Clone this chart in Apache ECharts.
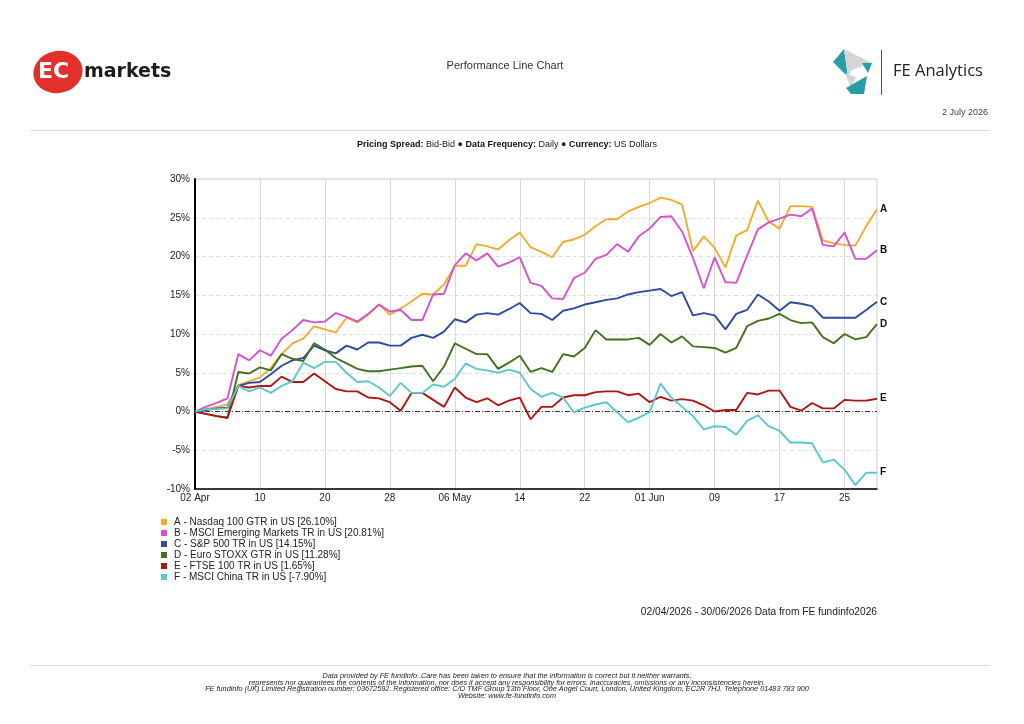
<!DOCTYPE html>
<html>
<head>
<meta charset="utf-8">
<script src="https://cdn.jsdelivr.net/npm/echarts@6/dist/echarts.min.js"></script>
<style>
  html, body { margin: 0; padding: 0; background: #fff; }
  #chart { width: 1024px; height: 724px; }
</style>
</head>
<body>
<div id="chart"></div>
<script>
// business days 02 Apr 2026 - 30 Jun 2026
const dates = [
  '02 Apr', '03 Apr', '06 Apr', '07 Apr', '08 Apr', '09 Apr', '10 Apr', '13 Apr', '14 Apr', '15 Apr',
  '16 Apr', '17 Apr', '20 Apr', '21 Apr', '22 Apr', '23 Apr', '24 Apr', '27 Apr', '28 Apr', '29 Apr',
  '30 Apr', '01 May', '04 May', '05 May', '06 May', '07 May', '08 May', '11 May', '12 May', '13 May',
  '14 May', '15 May', '18 May', '19 May', '20 May', '21 May', '22 May', '25 May', '26 May', '27 May',
  '28 May', '29 May', '01 Jun', '02 Jun', '03 Jun', '04 Jun', '05 Jun', '08 Jun', '09 Jun', '10 Jun',
  '11 Jun', '12 Jun', '15 Jun', '16 Jun', '17 Jun', '18 Jun', '19 Jun', '22 Jun', '23 Jun', '24 Jun',
  '25 Jun', '26 Jun', '29 Jun', '30 Jun'
];
const tickLabels = ['02 Apr', '10', '20', '28', '06 May', '14', '22', '01 Jun', '09', '17', '25'];
const tickEvery = 6;

const nasdaq = [
  0, 0.3, 0.6, 0.9, 3.4, 3.9, 4.4, 5.6, 7.4, 8.8,
  9.4, 11.0, 10.6, 10.2, 12.1, 11.5, 12.5, 13.8, 12.5, 13.3,
  14.2, 15.2, 15.1, 16.4, 18.8, 18.8, 21.6, 21.3, 20.9, 22.1,
  23.1, 21.2, 20.6, 19.9, 21.9, 22.2, 22.8, 23.9, 24.8, 24.8,
  25.8, 26.4, 26.9, 27.6, 27.3, 26.7, 20.7, 22.6, 21.1, 18.6,
  22.7, 23.4, 27.2, 24.5, 23.6, 26.5, 26.5, 26.4, 22.1, 21.7,
  21.5, 21.4, 23.9, 26.1
];
const msciEm = [
  0, 0.6, 1.1, 1.7, 7.4, 6.6, 7.9, 7.2, 9.4, 10.5,
  11.8, 11.5, 11.6, 12.7, 12.2, 11.6, 12.6, 13.8, 12.9, 13.1,
  11.8, 11.8, 15.1, 15.2, 18.9, 20.4, 19.5, 20.4, 18.7, 19.2,
  19.9, 16.6, 16.2, 14.6, 14.5, 17.2, 17.9, 19.7, 20.2, 21.6,
  20.6, 22.6, 23.6, 25.1, 25.2, 23.2, 19.8, 15.9, 19.9, 16.7,
  16.6, 20.1, 23.5, 24.4, 24.9, 25.4, 25.2, 26.2, 21.5, 21.3,
  23.1, 19.7, 19.7, 20.81
];
const sp500 = [
  0, 0.2, 0.4, 0.5, 3.3, 3.7, 3.8, 4.8, 5.9, 6.6,
  6.9, 8.5, 7.9, 7.5, 8.5, 8.0, 8.9, 8.9, 8.5, 8.5,
  9.5, 9.9, 9.5, 10.3, 11.9, 11.5, 12.5, 12.7, 12.5, 13.2,
  14.0, 12.7, 12.6, 11.8, 13.0, 13.3, 13.8, 14.1, 14.4, 14.6,
  15.1, 15.4, 15.6, 15.8, 14.9, 15.4, 12.4, 12.7, 12.4, 10.6,
  12.6, 13.1, 15.1, 14.2, 13.0, 14.1, 13.9, 13.6, 12.1, 12.1,
  12.1, 12.1, 13.1, 14.15
];
const euroStoxx = [
  0, -0.3, -0.6, -0.8, 5.1, 4.9, 5.7, 5.3, 7.4, 6.8,
  6.5, 8.8, 8.0, 6.9, 6.2, 5.5, 5.2, 5.2, 5.4, 5.6,
  5.8, 5.9, 3.9, 5.8, 8.8, 8.1, 7.4, 7.4, 5.5, 6.3,
  7.2, 5.1, 5.6, 5.1, 7.4, 7.1, 8.2, 10.5, 9.3, 9.3,
  9.3, 9.5, 8.6, 10.0, 8.9, 9.7, 8.4, 8.3, 8.2, 7.6,
  8.2, 11.0, 11.7, 12.0, 12.6, 11.8, 11.4, 11.5, 9.6, 8.8,
  10.0, 9.3, 9.6, 11.28
];
const ftse = [
  0, -0.3, -0.6, -0.8, 3.3, 3.1, 3.3, 3.3, 4.5, 3.8,
  3.8, 4.9, 3.9, 2.9, 2.6, 2.6, 1.8, 1.7, 1.2, 0.1,
  2.4, 2.4, 1.5, 0.6, 3.1, 1.8, 1.2, 1.7, 0.8, 1.4,
  1.8, -1.0, 0.6, 0.6, 1.8, 2.1, 2.1, 2.5, 2.6, 2.6,
  2.1, 2.3, 1.2, 1.9, 1.4, 1.6, 1.4, 0.8, 0.0, 0.2,
  0.2, 2.4, 2.2, 2.7, 2.7, 0.6, 0.1, 1.1, 0.4, 0.4,
  1.5, 1.4, 1.4, 1.65
];
const msciChina = [
  0, 0.3, 0.3, 0.4, 3.3, 2.6, 3.1, 2.4, 3.3, 3.9,
  6.3, 5.6, 6.4, 6.4, 5.0, 3.8, 3.9, 3.1, 2.0, 3.7,
  2.4, 2.4, 3.5, 3.2, 4.2, 6.2, 5.5, 5.3, 5.0, 5.4,
  5.0, 2.9, 1.9, 2.4, 1.8, -0.1, 0.5, 0.9, 1.2, -0.1,
  -1.4, -0.8, -0.1, 3.6, 1.8, 0.6, -0.6, -2.3, -1.9, -2.0,
  -3.0, -1.2, -0.5, -1.9, -2.5, -4.0, -4.0, -4.1, -6.6, -6.2,
  -7.5, -9.5, -7.9, -7.9
];

const seriesInfo = [
  { letter: 'A', name: 'A - Nasdaq 100 GTR in US [26.10%]', color: '#F2AC2C', data: nasdaq },
  { letter: 'B', name: 'B - MSCI Emerging Markets TR in US [20.81%]', color: '#D352CF', data: msciEm },
  { letter: 'C', name: 'C - S&P 500 TR in US [14.15%]', color: '#2D4A9B', data: sp500 },
  { letter: 'D', name: 'D - Euro STOXX GTR in US [11.28%]', color: '#43701F', data: euroStoxx },
  { letter: 'E', name: 'E - FTSE 100 TR in US [1.65%]', color: '#B01515', data: ftse },
  { letter: 'F', name: 'F - MSCI China TR in US [-7.90%]', color: '#5CC7C9', data: msciChina }
];

const FONT = '"Liberation Sans", Arial, sans-serif';
const chart = echarts.init(document.getElementById('chart'));

const series = seriesInfo.map(function (s, i) {
  const item = {
    name: s.name,
    type: 'line',
    data: s.data,
    symbol: 'none',
    showSymbol: false,
    color: s.color,
    lineStyle: { width: 1.9, color: s.color },
    z: 3 + i,
    endLabel: {
      show: true,
      formatter: s.letter,
      color: '#111',
      fontWeight: 'bold',
      fontSize: 10,
      fontFamily: FONT,
      distance: 3
    },
    emphasis: { disabled: true }
  };
  if (i === 0) {
    // dash-dot zero line
    item.markLine = {
      silent: true,
      symbol: 'none',
      label: { show: false },
      lineStyle: { color: '#333', width: 1, type: [5, 2, 1, 2] },
      data: [{ yAxis: 0 }],
      z: 2
    };
  }
  return item;
});

const footerLines = [
  'Data provided by FE fundinfo .Care has been taken to ensure that the information is correct but it neither warrants,',
  'represents nor guarantees the contents of the information, nor does it accept any responsibility for errors, inaccuracies, omissions or any inconsistencies herein.',
  'FE fundinfo (UK) Limited Registration number: 03672592. Registered office: C/O TMF Group 13th Floor, One Angel Court, London, United Kingdom, EC2R 7HJ. Telephone 01483 783 900',
  'Website: www.fe-fundinfo.com'
];

const graphics = [
  // EC markets logo
  { type: 'circle', x: 58, y: 72, rotation: 0.2, scaleX: 1.18, shape: { cx: 0, cy: 0, r: 21 }, style: { fill: '#E3302B' } },
  { type: 'text', x: 38, y: 72, style: { text: 'EC', fill: '#fff', font: 'bold 22px "DejaVu Sans", sans-serif', verticalAlign: 'middle' } },
  { type: 'text', x: 84, y: 72, style: { text: 'markets', fill: '#1c1c1c', font: 'bold 19px "DejaVu Sans", sans-serif', verticalAlign: 'middle' } },
  // FE Analytics logo
  { type: 'polygon', shape: { points: [[833, 62], [844, 49], [848, 77]] }, style: { fill: '#2A9CA5' } },
  { type: 'polygon', shape: { points: [[844, 49], [872, 63], [852, 70], [848, 77]] }, style: { fill: '#D3D6D9' } },
  { type: 'polygon', shape: { points: [[862, 63], [872, 63], [868, 73]] }, style: { fill: '#2A9CA5' } },
  { type: 'polygon', shape: { points: [[845, 73], [856, 77], [851, 88]] }, style: { fill: '#D3D6D9' } },
  { type: 'polygon', shape: { points: [[846, 88], [867, 76], [864, 94], [851, 94]] }, style: { fill: '#2A9CA5' } },
  { type: 'line', shape: { x1: 881.5, y1: 50, x2: 881.5, y2: 95 }, style: { stroke: '#555', lineWidth: 1 } },
  { type: 'text', x: 893, y: 71, style: { text: 'FE Analytics', fill: '#222', font: '16.5px "Open Sans", sans-serif', verticalAlign: 'middle' } },
  { type: 'text', x: 988, y: 113, style: { text: '2 July 2026', fill: '#444', font: '9px ' + FONT, align: 'right', verticalAlign: 'middle' } },
  // title
  { type: 'text', x: 505, y: 66, style: { text: 'Performance Line Chart', fill: '#333', font: '11px ' + FONT, align: 'center', verticalAlign: 'middle' } },
  // separators
  { type: 'line', shape: { x1: 30, y1: 130.5, x2: 990, y2: 130.5 }, style: { stroke: '#dcdcdc', lineWidth: 1 } },
  { type: 'line', shape: { x1: 30, y1: 665.5, x2: 990, y2: 665.5 }, style: { stroke: '#dcdcdc', lineWidth: 1 } },
  // subtitle
  {
    type: 'text', x: 507, y: 145,
    style: {
      text: '{b|Pricing Spread:} Bid-Bid \u25CF {b|Data Frequency:} Daily \u25CF {b|Currency:} US Dollars',
      fill: '#222', font: '9px ' + FONT, align: 'center', verticalAlign: 'middle',
      rich: { b: { fontWeight: 'bold', fontSize: 9, fontFamily: FONT, fill: '#111' } }
    }
  },
  // date range
  { type: 'text', x: 877, y: 612, style: { text: '02/04/2026 - 30/06/2026 Data from FE fundinfo2026', fill: '#222', font: '10.2px ' + FONT, align: 'right', verticalAlign: 'middle' } }
];

footerLines.forEach(function (t, i) {
  graphics.push({
    type: 'text', x: 507, y: 676 + i * 6.5,
    style: { text: t, fill: '#222', font: 'italic 7.3px ' + FONT, align: 'center', verticalAlign: 'middle' }
  });
});

const option = {
  animation: false,
  backgroundColor: '#fff',
  textStyle: { fontFamily: FONT },
  grid: {
    left: 195, right: 147, top: 179, bottom: 235,
    show: true, borderColor: '#cfcfcf', borderWidth: 1
  },
  legend: {
    orient: 'vertical',
    left: 156,
    top: 512,
    icon: 'rect',
    itemWidth: 6,
    itemHeight: 6,
    itemGap: 1,
    selectedMode: false,
    textStyle: { fontSize: 10, color: '#222', fontFamily: FONT, padding: [0, 0, 0, 2] },
    data: seriesInfo.map(function (s) { return s.name; })
  },
  xAxis: {
    type: 'category',
    data: dates,
    boundaryGap: false,
    axisLine: { onZero: false, lineStyle: { color: '#000', width: 1.5 } },
    axisTick: { show: false },
    axisLabel: {
      interval: function (index) { return index % tickEvery === 0; },
      formatter: function (value, index) { return tickLabels[index / tickEvery] || ''; },
      color: '#222',
      fontSize: 10,
      margin: 4
    },
    splitLine: {
      show: true,
      interval: function (index) { return index % tickEvery === 0; },
      lineStyle: { color: '#d8d8d8', width: 1 }
    }
  },
  yAxis: {
    type: 'value',
    min: -10,
    max: 30,
    interval: 5,
    axisLine: { show: true, lineStyle: { color: '#000', width: 2 } },
    axisTick: { show: false },
    axisLabel: { formatter: '{value}%', color: '#222', fontSize: 10, margin: 5 },
    splitLine: { lineStyle: { color: '#dedede', type: [4, 3] } }
  },
  series: series,
  graphic: graphics
};

chart.setOption(option);
</script>
</body>
</html>
